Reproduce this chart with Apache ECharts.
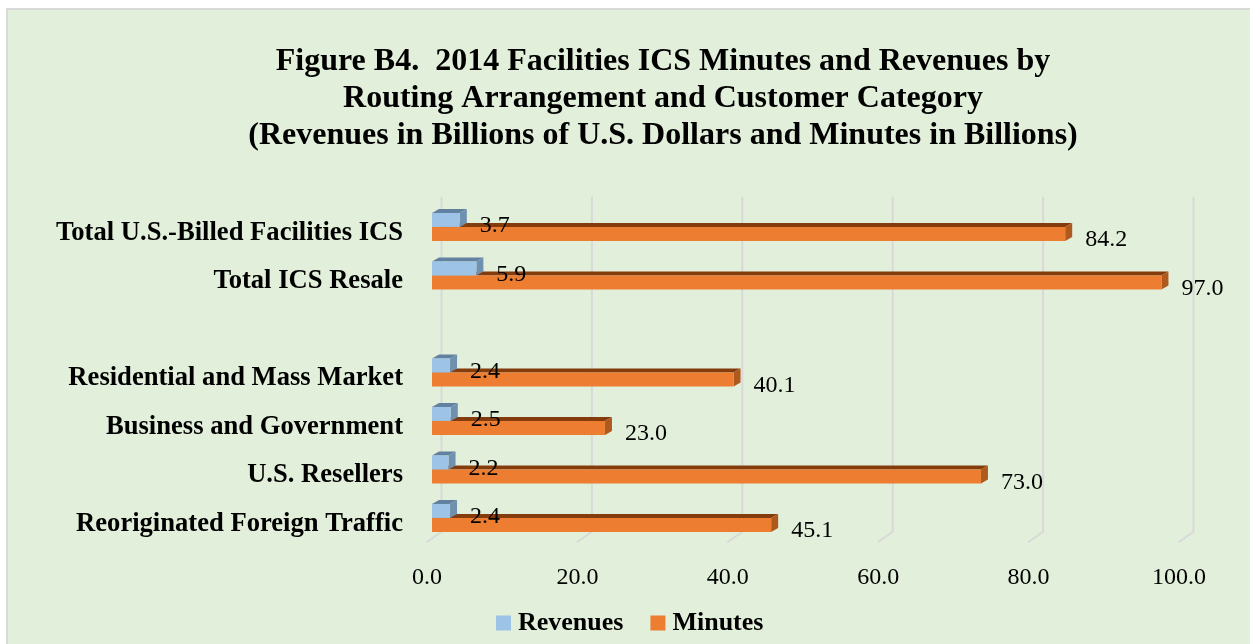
<!DOCTYPE html>
<html lang="en">
<head>
    <meta charset="UTF-8">
    <title>Figure B4</title>
    <style>
        html, body { margin: 0; padding: 0; width: 100%; height: 100%; background: #fff; }
        #main { width: 1250px; height: 644px; }
    </style>
</head>
<body>
    <div id="main"></div>
    <script src="https://cdn.jsdelivr.net/npm/echarts@6/dist/echarts.min.js"></script>
    <script>
        var categories = ['Total U.S.-Billed Facilities ICS', 'Total ICS Resale', '',
            'Residential and Mass Market', 'Business and Government', 'U.S. Resellers',
            'Reoriginated Foreign Traffic'];
        var revenues = [3.7, 5.9, null, 2.4, 2.5, 2.2, 2.4];
        var minutes = [84.2, 97.0, null, 40.1, 23.0, 73.0, 45.1];
        var ticks = [0, 20, 40, 60, 80, 100];

        var serif = '"Liberation Serif", "Times New Roman", serif';
        var depthX = 7, depthY = -4, barH = 14;

        function toPoints(arr) {
            var out = [];
            arr.forEach(function (v, i) { if (v != null) out.push([v, i]); });
            return out;
        }

        // 3D-looking bar: front face, top face, right side face, plus a label
        function bar3d(front, top, side, above) {
            return function (params, api) {
                var v = api.value(0), idx = api.value(1);
                var end = api.coord([v, idx]);
                var start = api.coord([0, idx]);
                var x0 = start[0], x1 = end[0];
                var yt = above ? end[1] - barH : end[1];
                var yb = yt + barH;
                return {
                    type: 'group',
                    children: [
                        { type: 'polygon', shape: { points: [[x0, yt], [x1, yt], [x1 + depthX, yt + depthY], [x0 + depthX, yt + depthY]] }, style: { fill: top } },
                        { type: 'polygon', shape: { points: [[x1, yt], [x1 + depthX, yt + depthY], [x1 + depthX, yb + depthY], [x1, yb]] }, style: { fill: side } },
                        { type: 'rect', shape: { x: x0, y: yt, width: x1 - x0, height: barH }, style: { fill: front } },
                        { type: 'text', style: { text: v.toFixed(1), x: x1 + 20, y: above ? end[1] - 1 : end[1] + 13, verticalAlign: 'middle', font: '24px ' + serif, fill: '#000' } }
                    ]
                };
            };
        }

        var myChart = echarts.init(document.getElementById('main'));
        var option = {
            animation: false,
            graphic: [
                { type: 'rect', z: -10, silent: true, shape: { x: 7, y: 9, width: 1260, height: 660 }, style: { fill: '#E2EFDA', stroke: '#D9D9D9', lineWidth: 2 } },
                { type: 'text', z: 10, silent: true, style: {
                    text: 'Figure B4.  2014 Facilities ICS Minutes and Revenues by\nRouting Arrangement and Customer Category\n(Revenues in Billions of U.S. Dollars and Minutes in Billions)',
                    x: 663, y: 43.5, textAlign: 'center', lineHeight: 37, font: 'bold 32px ' + serif, fill: '#000' } }
            ],
            legend: {
                data: ['Revenues', 'Minutes'],
                top: 605,
                left: 491,
                itemWidth: 15,
                itemHeight: 15,
                itemGap: 27,
                icon: 'rect',
                textStyle: { fontFamily: serif, fontWeight: 'bold', fontSize: 26, color: '#000', lineHeight: 26, padding: [0, 0, 0, 2] }
            },
            grid: { left: 432, width: 752, top: 202.7, height: 339.5 },
            xAxis: {
                type: 'value', min: 0, max: 100, interval: 20,
                axisLine: { show: false }, axisTick: { show: false }, splitLine: { show: false },
                axisLabel: { formatter: function (v) { return v.toFixed(1); }, fontFamily: serif, fontSize: 24, color: '#000', margin: 24, padding: [0, 10, 0, 0] }
            },
            yAxis: {
                type: 'category', inverse: true, data: categories,
                axisLine: { show: false }, axisTick: { show: false }, splitLine: { show: false },
                axisLabel: { fontFamily: serif, fontWeight: 'bold', fontSize: 26.6, color: '#000', margin: 29, verticalAlign: 'top', lineHeight: 12 }
            },
            series: [
                {
                    name: 'grid', type: 'custom', silent: true, z: 1,
                    data: ticks.map(function (t) { return [t, 0]; }),
                    renderItem: function (params, api) {
                        var cs = params.coordSys;
                        var x = api.coord([api.value(0), 0])[0] + 9.5;
                        var bottom = cs.y + cs.height;
                        return {
                            type: 'polyline',
                            shape: { points: [[x, cs.y - 6], [x, bottom - 10.5], [x - 15, bottom]] },
                            style: { stroke: '#D9D9D9', lineWidth: 2, fill: null }
                        };
                    }
                },
                {
                    name: 'Minutes', type: 'custom', z: 2,
                    itemStyle: { color: '#ED7D31' },
                    data: toPoints(minutes),
                    renderItem: bar3d('#ED7D31', '#843C0C', '#AE5A1E', false)
                },
                {
                    name: 'Revenues', type: 'custom', z: 3,
                    itemStyle: { color: '#9DC3E6' },
                    data: toPoints(revenues),
                    renderItem: bar3d('#9DC3E6', '#62819F', '#7090AF', true)
                }
            ]
        };
        myChart.setOption(option);
    </script>
</body>
</html>
